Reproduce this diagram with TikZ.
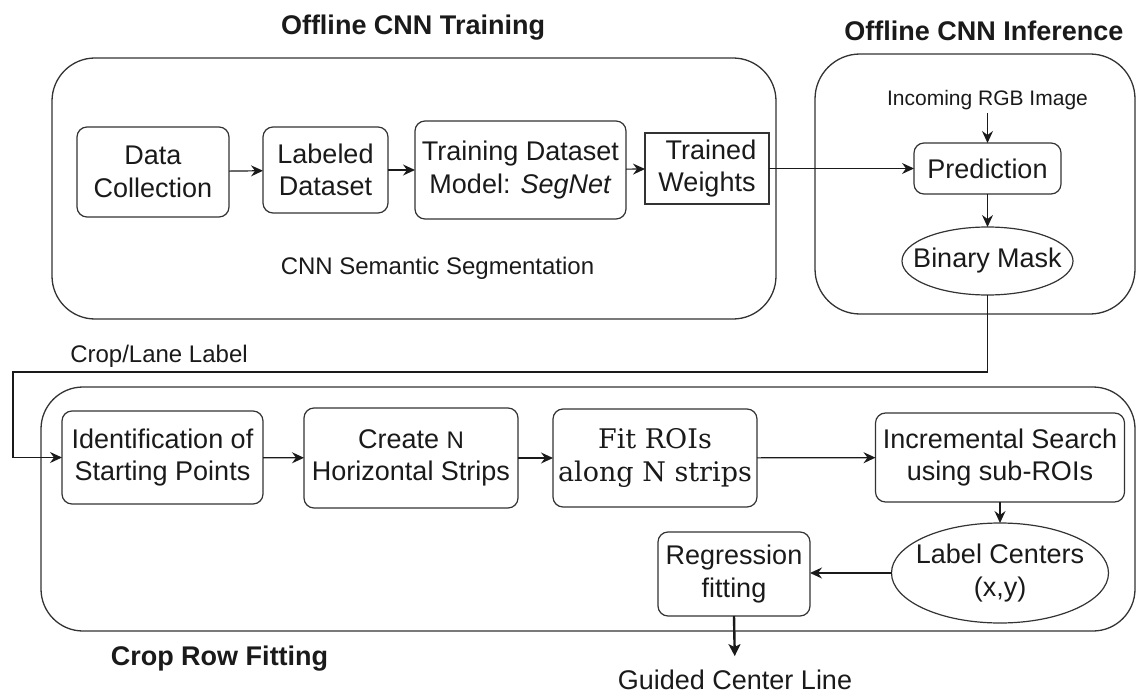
\documentclass[tikz,border=0pt]{standalone}
\usepackage{fontspec}
\setmainfont{Liberation Sans}
\newfontfamily\serifface{DejaVu Serif}
\usetikzlibrary{shapes.geometric,arrows.meta}

\definecolor{ink}{HTML}{1A1A1A}
\definecolor{edge}{HTML}{333333}

\begin{document}
\begin{tikzpicture}[x=1pt,y=-1pt,
  every node/.style={inner sep=0pt,outer sep=0pt,text=ink},
  bodytext/.style={font=\fontsize{27}{32.4}\selectfont,align=center},
  smalltext/.style={font=\fontsize{24}{28.8}\selectfont,align=center},
  tinytext/.style={font=\fontsize{21}{25}\selectfont,align=center},
  titletext/.style={font=\fontsize{27}{32}\selectfont\bfseries,align=center},
  group/.style={draw=edge,line width=1.3pt},
  stepbox/.style={bodytext,draw=edge,line width=1.2pt,rounded corners=10pt},
  plainbox/.style={bodytext,draw=edge,line width=1.2pt},
  oval/.style={ellipse,draw=edge,line width=1.2pt},
  flow/.style={draw=ink,line width=1.2pt,-{Stealth[length=12pt,width=11pt,inset=4pt]}},
  boldflow/.style={draw=ink,line width=2.4pt,-{Stealth[length=12pt,width=12pt,inset=3pt]}}
]
\useasboundingbox (0,0) rectangle (1137,695);

% ---- group frames and their titles ----
\draw[group,rounded corners=43pt] (52,58) rectangle (776,319);
\draw[group,rounded corners=45pt] (815,54) rectangle (1135,314);
\draw[group,rounded corners=42pt] (41,387) rectangle (1135,631);

\node[titletext] (ttrain) at (413,28) {Offline CNN Training};
\node[titletext] (tinfer) at (984,31) {Offline CNN Inference};
\node[titletext] (tcrop)  at (219.5,659) {Crop Row Fitting};

% ---- offline training ----
\node[stepbox,minimum width=152pt,minimum height=90pt] (dc) at (153,172) {Data\\Collection};
\node[stepbox,minimum width=125pt,minimum height=86pt] (ld) at (325.5,170) {Labeled\\Dataset};
\node[stepbox,minimum width=211pt,minimum height=98pt] (td) at (520.5,170) {Training Dataset\\Model: \textit{SegNet}};
\node[plainbox,minimum width=124pt,minimum height=71pt] (tw) at (707,168.5) {\hspace*{8pt}Trained\\Weights};
\node[smalltext] (seg) at (437.5,268) {CNN Semantic Segmentation};

% ---- offline inference ----
\node[tinytext] (rgb) at (987.5,100) {Incoming RGB Image};
\node[stepbox,minimum width=147pt,minimum height=51pt] (pred) at (987.5,168.5) {Prediction};
\node[oval,minimum width=171pt,minimum height=68pt,
      label={[bodytext]center:Binary Mask}] (bm) at (987.5,261) {};

% ---- crop row fitting ----
\node[smalltext] (lanelbl) at (159,356) {Crop/Lane Label};
\node[stepbox,minimum width=201pt,minimum height=93pt] (ident) at (162.5,457.5) {Identification of\\Starting Points};
\node[stepbox,minimum width=214pt,minimum height=100pt] (strips) at (411,458) {Create {\fontsize{24}{28}\selectfont N}\\Horizontal Strips};
\node[stepbox,minimum width=204pt,minimum height=98pt,font=\fontsize{27}{33}\selectfont\serifface] (fit) at (655,458) {Fit ROIs\\along N strips};
\node[stepbox,minimum width=249pt,minimum height=89pt] (incr) at (1000,457.5) {Incremental Search\\using sub-ROIs};
\node[oval,minimum width=217pt,minimum height=100pt,
      label={[bodytext]center:Label Centers\\(x,y)}] (lc) at (1000,573) {};
\node[stepbox,minimum width=152pt,minimum height=84pt] (reg) at (734,574) {Regression\\fitting};
\node[bodytext] (guided) at (735,680) {Guided Center Line};

% ---- connectors ----
\coordinate (fbturn) at (13,372);

\draw[flow] (dc) -- (ld);
\draw[flow] (ld) -- (td);
\draw[flow] (td) -- (tw);
\draw[flow] (tw) -- (pred);
\draw[flow] (rgb.south) ++(0,3) -- (pred.north);
\draw[flow] (pred) -- (bm);
\draw[flow] (bm.south) |- (fbturn) |- (ident.west);
\draw[flow] (ident) -- (strips);
\draw[flow] (strips) -- (fit);
\draw[flow] (fit) -- (incr);
\draw[flow] (incr) -- (lc);
\draw[flow] (lc.west) -- (reg.east |- lc.west);
\draw[boldflow,shorten >=14pt] (reg.south) -- (guided.north);
\end{tikzpicture}
\end{document}
